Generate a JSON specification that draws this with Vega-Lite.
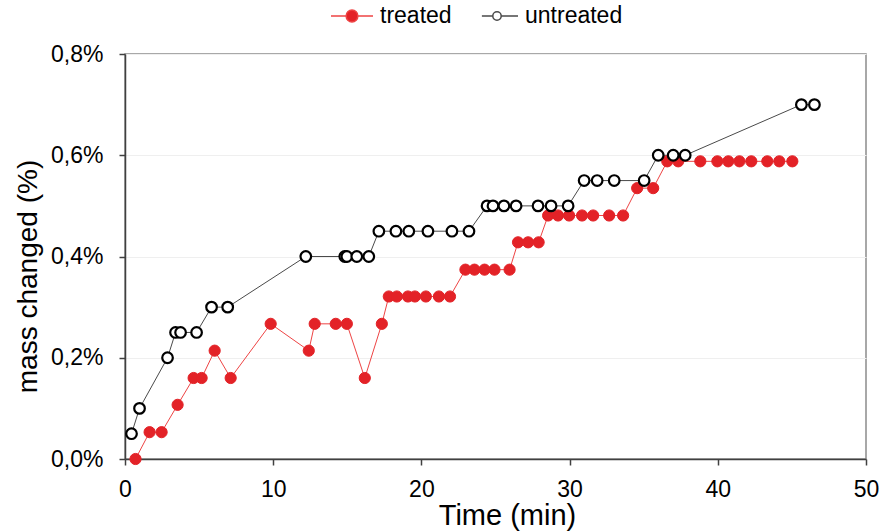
{
  "$schema": "https://vega.github.io/schema/vega-lite/v6.json",
  "width": 741,
  "height": 405,
  "autosize": "none",
  "padding": {"left": 125, "top": 54, "right": 19, "bottom": 73},
  "background": "white",
  "config": {
    "font": "Liberation Sans",
    "view": {"stroke": "#8c8c8c", "strokeWidth": 1.5},
    "axis": {"labelColor": "#000000", "titleColor": "#000000", "labelFont": "Liberation Sans", "titleFont": "Liberation Sans", "titleFontWeight": "normal", "domainColor": "#404040", "domainWidth": 1.5, "tickColor": "#404040", "tickWidth": 1.5, "tickSize": 6, "labelFlush": false}
  },
  "data": {"values": [
    {"series": "treated", "t": 0.71, "m": 0.0},
    {"series": "treated", "t": 1.66, "m": 0.053},
    {"series": "treated", "t": 2.47, "m": 0.053},
    {"series": "treated", "t": 3.55, "m": 0.107},
    {"series": "treated", "t": 4.63, "m": 0.16},
    {"series": "treated", "t": 5.17, "m": 0.16},
    {"series": "treated", "t": 6.05, "m": 0.214},
    {"series": "treated", "t": 7.13, "m": 0.16},
    {"series": "treated", "t": 9.83, "m": 0.267},
    {"series": "treated", "t": 12.4, "m": 0.214},
    {"series": "treated", "t": 12.8, "m": 0.267},
    {"series": "treated", "t": 14.22, "m": 0.267},
    {"series": "treated", "t": 14.97, "m": 0.267},
    {"series": "treated", "t": 16.18, "m": 0.16},
    {"series": "treated", "t": 17.33, "m": 0.267},
    {"series": "treated", "t": 17.8, "m": 0.321},
    {"series": "treated", "t": 18.34, "m": 0.321},
    {"series": "treated", "t": 19.09, "m": 0.321},
    {"series": "treated", "t": 19.56, "m": 0.321},
    {"series": "treated", "t": 20.3, "m": 0.321},
    {"series": "treated", "t": 21.18, "m": 0.321},
    {"series": "treated", "t": 21.93, "m": 0.321},
    {"series": "treated", "t": 22.97, "m": 0.374},
    {"series": "treated", "t": 23.58, "m": 0.374},
    {"series": "treated", "t": 24.26, "m": 0.374},
    {"series": "treated", "t": 24.93, "m": 0.374},
    {"series": "treated", "t": 25.95, "m": 0.374},
    {"series": "treated", "t": 26.52, "m": 0.428},
    {"series": "treated", "t": 27.2, "m": 0.428},
    {"series": "treated", "t": 27.91, "m": 0.428},
    {"series": "treated", "t": 28.55, "m": 0.481},
    {"series": "treated", "t": 29.22, "m": 0.481},
    {"series": "treated", "t": 29.97, "m": 0.481},
    {"series": "treated", "t": 30.84, "m": 0.481},
    {"series": "treated", "t": 31.59, "m": 0.481},
    {"series": "treated", "t": 32.67, "m": 0.481},
    {"series": "treated", "t": 33.61, "m": 0.481},
    {"series": "treated", "t": 34.56, "m": 0.535},
    {"series": "treated", "t": 35.64, "m": 0.535},
    {"series": "treated", "t": 36.59, "m": 0.588},
    {"series": "treated", "t": 37.33, "m": 0.588},
    {"series": "treated", "t": 38.82, "m": 0.588},
    {"series": "treated", "t": 39.97, "m": 0.588},
    {"series": "treated", "t": 40.71, "m": 0.588},
    {"series": "treated", "t": 41.46, "m": 0.588},
    {"series": "treated", "t": 42.26, "m": 0.588},
    {"series": "treated", "t": 43.34, "m": 0.588},
    {"series": "treated", "t": 44.15, "m": 0.588},
    {"series": "treated", "t": 45.03, "m": 0.588},
    {"series": "untreated", "t": 0.44, "m": 0.05},
    {"series": "untreated", "t": 0.98, "m": 0.1},
    {"series": "untreated", "t": 2.87, "m": 0.2},
    {"series": "untreated", "t": 3.41, "m": 0.25},
    {"series": "untreated", "t": 3.75, "m": 0.25},
    {"series": "untreated", "t": 4.83, "m": 0.25},
    {"series": "untreated", "t": 5.84, "m": 0.3},
    {"series": "untreated", "t": 6.93, "m": 0.3},
    {"series": "untreated", "t": 12.2, "m": 0.4},
    {"series": "untreated", "t": 14.83, "m": 0.4},
    {"series": "untreated", "t": 14.97, "m": 0.4},
    {"series": "untreated", "t": 15.64, "m": 0.4},
    {"series": "untreated", "t": 16.45, "m": 0.4},
    {"series": "untreated", "t": 17.13, "m": 0.45},
    {"series": "untreated", "t": 18.28, "m": 0.45},
    {"series": "untreated", "t": 19.15, "m": 0.45},
    {"series": "untreated", "t": 20.44, "m": 0.45},
    {"series": "untreated", "t": 22.06, "m": 0.45},
    {"series": "untreated", "t": 23.21, "m": 0.45},
    {"series": "untreated", "t": 24.43, "m": 0.5},
    {"series": "untreated", "t": 24.83, "m": 0.5},
    {"series": "untreated", "t": 25.57, "m": 0.5},
    {"series": "untreated", "t": 26.39, "m": 0.5},
    {"series": "untreated", "t": 27.87, "m": 0.5},
    {"series": "untreated", "t": 28.75, "m": 0.5},
    {"series": "untreated", "t": 29.9, "m": 0.5},
    {"series": "untreated", "t": 30.98, "m": 0.55},
    {"series": "untreated", "t": 31.86, "m": 0.55},
    {"series": "untreated", "t": 33.01, "m": 0.55},
    {"series": "untreated", "t": 35.03, "m": 0.55},
    {"series": "untreated", "t": 35.98, "m": 0.6},
    {"series": "untreated", "t": 36.99, "m": 0.6},
    {"series": "untreated", "t": 37.8, "m": 0.6},
    {"series": "untreated", "t": 45.64, "m": 0.7},
    {"series": "untreated", "t": 46.52, "m": 0.7}
  ]},
  "encoding": {
    "x": {"field": "t", "type": "quantitative", "scale": {"domain": [0, 50], "nice": false, "zero": false},
      "axis": {"title": "Time (min)", "values": [0, 10, 20, 30, 40, 50], "grid": false, "labelFontSize": 23, "labelPadding": 13, "titleFontSize": 29, "titlePadding": 0, "titleX": 382}},
    "y": {"field": "m", "type": "quantitative", "scale": {"domain": [0, 0.8], "nice": false},
      "axis": {"title": "mass changed (%)", "values": [0, 0.2, 0.4, 0.6, 0.8], "grid": true, "gridColor": "#efefef", "gridWidth": 1, "labelFontSize": 23, "labelPadding": 16, "labelExpr": "replace(format(datum.value, '.1f'), '.', ',') + '%'", "titleFontSize": 28, "titlePadding": 8, "titleY": 222}}
  },
  "layer": [
    {
      "mark": {"type": "line", "strokeWidth": 1},
      "encoding": {
        "color": {"field": "series", "type": "nominal", "scale": {"domain": ["treated", "untreated"], "range": ["#ee4444", "#4a4a4a"]},
          "legend": {"title": null, "orient": "none", "legendX": 205, "legendY": -60, "direction": "horizontal", "columns": 2, "columnPadding": 23, "labelFontSize": 23, "labelColor": "#000000", "labelOffset": 6, "symbolSize": 1764, "symbolStrokeWidth": 1.5,
            "symbolType": "M-1,0H-0.28M0.28,0H1M-0.28,0A0.28,0.28,0,1,1,0.28,0A0.28,0.28,0,1,1,-0.28,0",
            "encode": {"symbols": {"update": {
              "shape": {"signal": "datum.value === 'treated' ? 'M-1,0H-0.28M0.28,0H1M-0.28,0A0.28,0.28,0,1,1,0.28,0A0.28,0.28,0,1,1,-0.28,0' : 'M-0.72,0H-0.2M0.2,0H1M-0.2,0A0.2,0.2,0,1,1,0.2,0A0.2,0.2,0,1,1,-0.2,0'"},
              "fill": {"signal": "datum.value === 'treated' ? '#e32227' : '#ffffff'"},
              "stroke": {"signal": "datum.value === 'treated' ? '#e32227' : '#3c3c3c'"},
              "opacity": {"value": 1}}}}}}
      }
    },
    {
      "transform": [{"filter": "datum.series === 'treated'"}],
      "mark": {"type": "point", "shape": "circle", "filled": true, "opacity": 1, "size": 125, "strokeWidth": 1, "fill": "#e32227", "stroke": "#e32227"}
    },
    {
      "transform": [{"filter": "datum.series === 'untreated'"}],
      "mark": {"type": "point", "shape": "circle", "filled": true, "opacity": 1, "size": 112, "strokeWidth": 2.2, "fill": "#ffffff", "stroke": "#000000"}
    }
  ]
}
